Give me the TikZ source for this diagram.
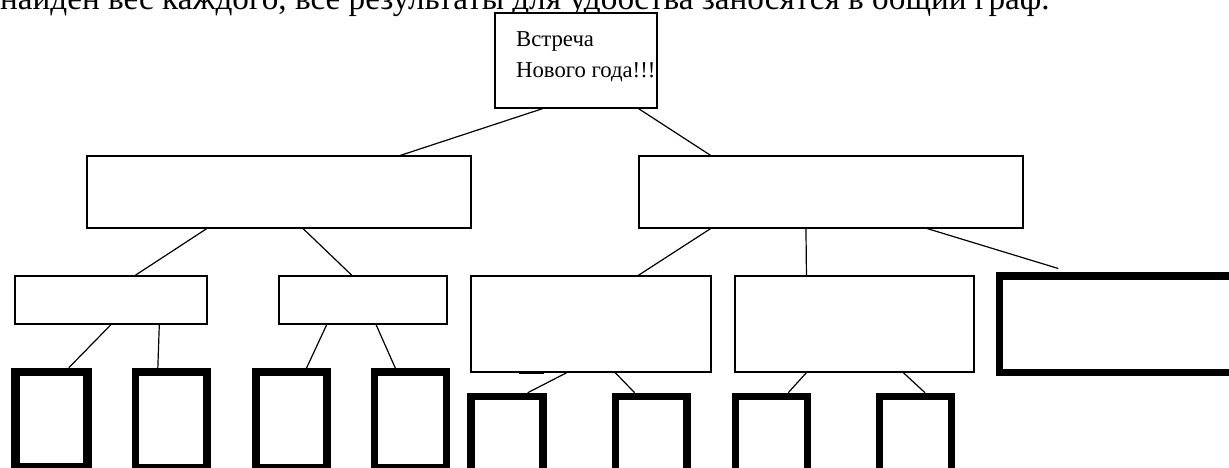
\documentclass[tikz,border=0pt]{standalone}
\usepackage{fontspec}
\setmainfont{Liberation Serif}
\usetikzlibrary{calc}
\begin{document}
\begin{tikzpicture}[x=1pt,y=-1pt,
  thinbox/.style={draw=black,line width=1.2pt,rectangle,inner sep=0pt,fill=white},
  thickbox/.style={draw=black,line width=7.5pt,rectangle,inner sep=0pt,fill=white},
  link/.style={draw=black,line width=1.2pt}]
\useasboundingbox (0,0) rectangle (1229,468);
% cut-off text line at the top
\node[anchor=base west,inner sep=0pt,font=\fontsize{33.2}{38}\selectfont] (intro) at (0,10)
  {найден вес каждого, все результаты для удобства заносятся в общий граф.};
% top box
\node[thinbox,minimum width=162pt,minimum height=95pt] (top) at (576,60.5) {};
\node[anchor=base west,inner sep=0pt,font=\fontsize{22.7}{26}\selectfont] (t1) at (516,47) {Встреча};
\node[anchor=base west,inner sep=0pt,font=\fontsize{22.7}{26}\selectfont] (t2) at (516,78) {Нового года!!!};
% level 1
\node[thinbox,minimum width=384pt,minimum height=72pt] (L) at (279,192) {};
\node[thinbox,minimum width=384pt,minimum height=72pt] (R) at (831,192) {};
% level 2
\node[thinbox,minimum width=192pt,minimum height=48pt] (A) at (111,300) {};
\node[thinbox,minimum width=168pt,minimum height=48pt] (B) at (363,300) {};
\node[thinbox,minimum width=240pt,minimum height=96pt] (C) at (591,324) {};
\node[thinbox,minimum width=239pt,minimum height=96pt] (D) at (854.5,324) {};
\node[thickbox,minimum width=240pt,minimum height=96.5pt] (E) at (1119.5,324.25) {};
% level 3 thick boxes
\node[thickbox,line width=8.5pt,minimum width=72pt,minimum height=95.5pt] (b1) at (51.5,419.75) {};
\node[thickbox,minimum width=71.5pt,minimum height=95.5pt] (b2) at (171.25,419.75) {};
\node[thickbox,minimum width=71pt,minimum height=95.5pt] (b3) at (291.5,419.75) {};
\node[thickbox,minimum width=72pt,minimum height=95.5pt] (b4) at (410.5,419.75) {};
\node[thickbox,minimum width=72pt,minimum height=84pt] (b5) at (507,438.5) {};
\node[thickbox,minimum width=71.5pt,minimum height=84pt] (b6) at (651.25,438.5) {};
\node[thickbox,minimum width=72pt,minimum height=84pt] (b7) at (771.5,438.5) {};
\node[thickbox,minimum width=72pt,minimum height=84pt] (b8) at (915.5,438.5) {};
% connectors
\draw[link] ($(top.south west)!0.296!(top.south east)$) -- ($(L.north west)!0.815!(L.north east)$);
\draw[link] ($(top.south west)!0.883!(top.south east)$) -- ($(R.north west)!0.1875!(R.north east)$);
\draw[link] ($(L.south west)!0.3125!(L.south east)$) -- ($(A.north west)!0.625!(A.north east)$);
\draw[link] ($(L.south west)!0.5625!(L.south east)$) -- ($(B.north west)!0.4345!(B.north east)$);
\draw[link] ($(R.south west)!0.1875!(R.south east)$) -- ($(C.north west)!0.696!(C.north east)$);
\draw[link] ($(R.south west)!0.435!(R.south east)$) -- ($(D.north west)!0.30!(D.north east)$);
\draw[link] ($(R.south west)!0.75!(R.south east)$) -- ($(E.north west)+(62.5,-3.75)$);
\draw[link] ($(A.south west)!0.5!(A.south east)$) -- ($(b1.north west)!0.715!(b1.north east)$);
\draw[link] ($(A.south west)!0.75!(A.south east)$) -- ($(b2.north west)!0.33!(b2.north east)$);
\draw[link] ($(B.south west)!0.2857!(B.south east)$) -- ($(b3.north west)!0.69!(b3.north east)$);
\draw[link] ($(B.south west)!0.577!(B.south east)$) -- ($(b4.north west)!0.31!(b4.north east)$);
\draw[link] ($(C.south west)!0.4!(C.south east)$) -- ($(b5.north west)!0.76!(b5.north east)$);
\draw[link] ($(C.south west)!0.6!(C.south east)$) -- ($(b6.north west)!0.29!(b6.north east)$);
\draw[link] ($(D.south west)!0.30!(D.south east)$) -- ($(b7.north west)!0.71!(b7.north east)$);
\draw[link] ($(D.south west)!0.703!(D.south east)$) -- ($(b8.north west)!0.62!(b8.north east)$);
% small thicker mark on the bottom edge of C
\draw[line width=2pt] ($(C.south west)!0.2!(C.south east)$) -- ($(C.south west)!0.304!(C.south east)$);
\end{tikzpicture}
\end{document}
